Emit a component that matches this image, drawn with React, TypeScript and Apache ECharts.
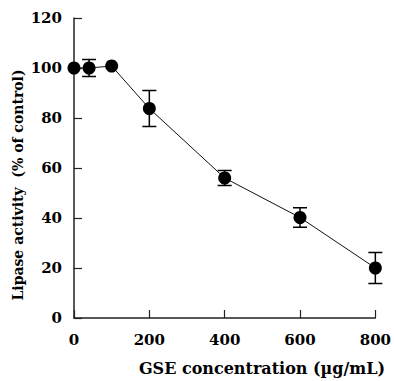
import React, { useEffect, useRef } from "react";
import * as echarts from "echarts";

const concentrations = [0, 40, 100, 200, 400, 600, 800];
const activity = [100, 100, 100.8, 83.8, 56, 40.2, 20];
const errors = [0, 3.4, 0, 7.2, 3, 3.9, 6.2];
const xTicks = [0, 200, 400, 600, 800];
const yTicks = [0, 20, 40, 60, 80, 100, 120];
const xTitle = "GSE concentration (\u00b5g/mL)";
const yTitle = "Lipase activity  (% of control)";

const FONT = "DejaVu Serif";

export default function App() {
  const ref = useRef<HTMLDivElement>(null);
  useEffect(() => {
    if (!ref.current) return;
    const chart = echarts.init(ref.current, undefined, { renderer: "svg" });
    const points = concentrations.map((c, i) => [c, activity[i]]);
    const errData = concentrations.map((c, i) => [c, activity[i] - errors[i], activity[i] + errors[i]]);
    chart.setOption({
      animation: false,
      backgroundColor: "#ffffff",
      grid: { left: 74, right: 18, top: 18, bottom: 63 },
      xAxis: {
        type: "value",
        min: 0,
        max: 800,
        interval: 200,
        splitLine: { show: false },
        axisLine: { lineStyle: { color: "#222", width: 1.5 } },
        axisTick: { inside: true, length: 8, lineStyle: { color: "#222", width: 1.2 } },
        axisLabel: {
          margin: 14,
          color: "#000",
          fontFamily: FONT,
          fontWeight: "bold",
          fontSize: 15,
          formatter: (v: number) => (xTicks.includes(v) ? String(v) : ""),
        },
      },
      yAxis: {
        type: "value",
        min: 0,
        max: 120,
        interval: 20,
        splitLine: { show: false },
        axisLine: { show: true, lineStyle: { color: "#222", width: 1.5 } },
        axisTick: { show: true, inside: true, length: 8, lineStyle: { color: "#222", width: 1.2 } },
        axisLabel: {
          margin: 12,
          color: "#000",
          fontFamily: FONT,
          fontWeight: "bold",
          fontSize: 15,
          formatter: (v: number) => (yTicks.includes(v) ? String(v) : ""),
        },
      },
      graphic: [
        {
          type: "text",
          x: 262,
          y: 368,
          style: {
            text: xTitle,
            fill: "#000",
            font: `bold 16px "${FONT}"`,
            align: "center",
            verticalAlign: "middle",
          },
        },
        {
          type: "text",
          x: 18,
          y: 185,
          rotation: Math.PI / 2,
          style: {
            text: yTitle,
            fill: "#000",
            font: `bold 14px "${FONT}"`,
            align: "center",
            verticalAlign: "middle",
          },
        },
      ],
      series: [
        {
          type: "line",
          data: points,
          symbol: "circle",
          symbolSize: 13,
          itemStyle: { color: "#000" },
          lineStyle: { color: "#111", width: 1 },
          z: 3,
        },
        {
          type: "custom",
          data: errData,
          z: 2,
          renderItem: (params: any, api: any) => {
            const x = api.value(0);
            const lo = api.coord([x, api.value(1)]);
            const hi = api.coord([x, api.value(2)]);
            if (Math.abs(lo[1] - hi[1]) < 1) return { type: "group", children: [] };
            const w = 7;
            const style = { stroke: "#000", lineWidth: 1.5 };
            return {
              type: "group",
              children: [
                { type: "line", shape: { x1: lo[0], y1: lo[1], x2: hi[0], y2: hi[1] }, style },
                { type: "line", shape: { x1: lo[0] - w, y1: lo[1], x2: lo[0] + w, y2: lo[1] }, style },
                { type: "line", shape: { x1: hi[0] - w, y1: hi[1], x2: hi[0] + w, y2: hi[1] }, style },
              ],
            };
          },
        },
      ],
    });
    return () => chart.dispose();
  }, []);
  return <div ref={ref} style={{ width: 394, height: 381, position: "absolute", left: 0, top: 0 }} />;
}
